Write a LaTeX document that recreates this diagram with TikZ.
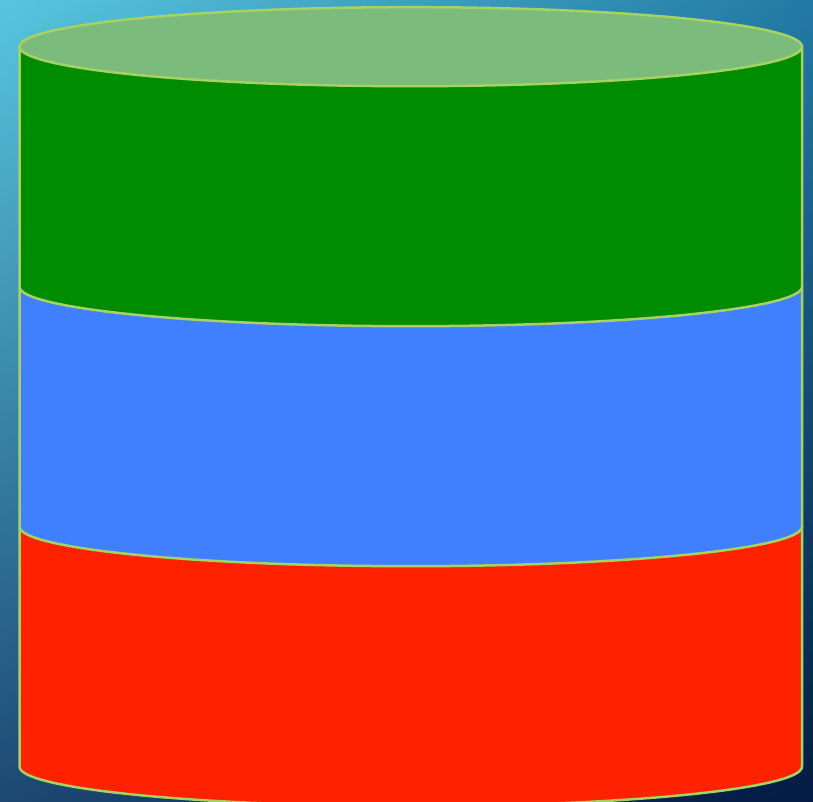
\documentclass[tikz,border=0pt]{standalone}
\usetikzlibrary{shadings}
\definecolor{bgUL}{RGB}{88,198,222}
\definecolor{bgUR}{RGB}{34,122,164}
\definecolor{bgLL}{RGB}{28,72,114}
\definecolor{bgLR}{RGB}{4,26,66}
\definecolor{rimline}{RGB}{166,210,100}
\definecolor{lidfill}{RGB}{123,187,123}
\definecolor{greenband}{RGB}{0,140,0}
\definecolor{blueband}{RGB}{64,128,255}
\definecolor{redband}{RGB}{255,34,0}
\begin{document}
\begin{tikzpicture}[x=1pt,y=1pt,
  band/.style={line width=2.5pt,draw=rimline,line join=round},
  lid/.style={line width=2.5pt,draw=rimline,fill=lidfill}]
% page frame and diagonal background
\useasboundingbox (0,0) rectangle (813,802);
\shade[upper left=bgUL,upper right=bgUR,lower left=bgLL,lower right=bgLR]
  (0,0) rectangle (813,802);
\def\rx{391.25}
\def\ry{39.5}
% bands, lowest first; each is filled closed but stroked open
\begin{scope}
\clip (0,0) rectangle (813,802);
\filldraw[band,fill=redband] (19.5,275.3) -- (19.5,35.3)
  arc[start angle=180,end angle=360,x radius=\rx,y radius=\ry] -- (802,275.3);
\filldraw[band,fill=blueband] (19.5,515.3) -- (19.5,275.3)
  arc[start angle=180,end angle=360,x radius=\rx,y radius=\ry] -- (802,515.3);
\filldraw[band,fill=greenband] (19.5,755.3) -- (19.5,515.3)
  arc[start angle=180,end angle=360,x radius=\rx,y radius=\ry] -- (802,755.3);
% lid
\draw[lid] (410.75,755.3) ellipse[x radius=\rx,y radius=\ry];
\end{scope}
\end{tikzpicture}
\end{document}
